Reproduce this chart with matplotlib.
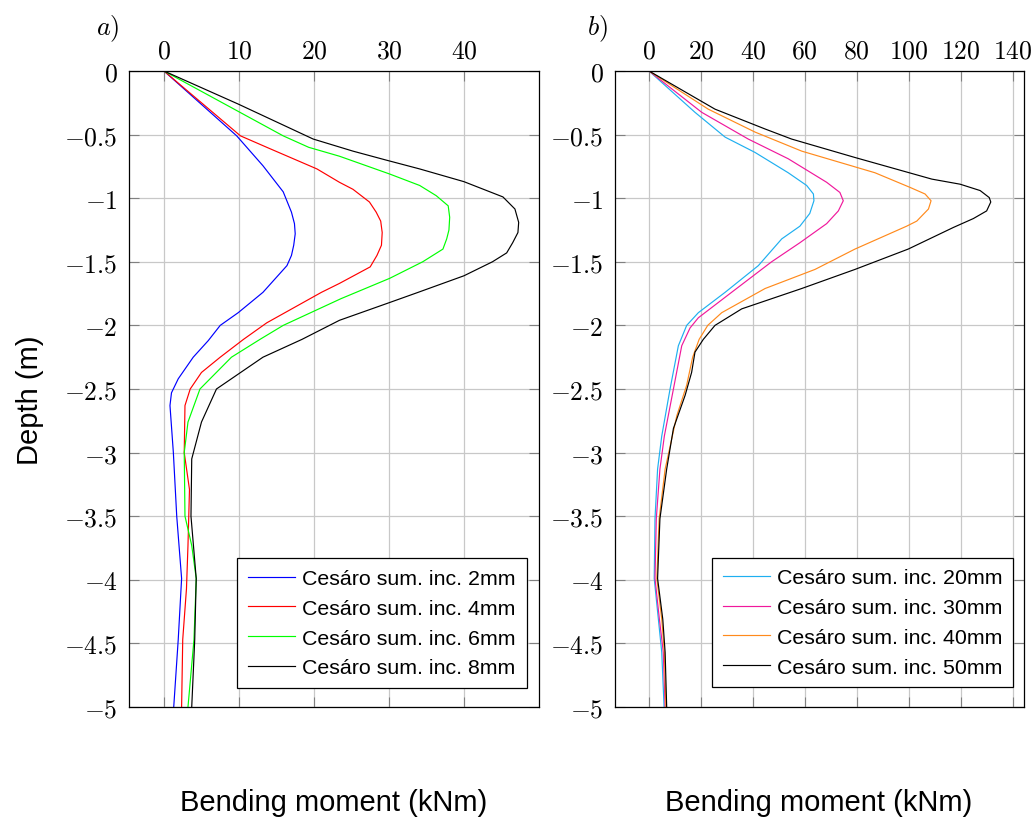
import matplotlib.pyplot as plt

# ---------------- DATA ----------------
# panel a) small increments, depth in m, moment in kNm
depth_2mm = [0, -0.51, -0.745, -0.95, -1.11, -1.20, -1.28, -1.37, -1.45, -1.53, -1.74, -1.90,
             -2.0, -2.12, -2.25, -2.42, -2.53, -2.63, -3.0, -3.5, -3.99, -4.47, -5.0]
moment_2mm = [0, 9.7, 13.2, 15.9, 17.0, 17.4, 17.5, 17.3, 17.0, 16.4, 13.2, 9.9,
              7.5, 5.9, 3.9, 1.9, 1.0, 0.8, 1.25, 1.7, 2.35, 1.9, 1.3]

depth_4mm = [0, -0.51, -0.61, -0.77, -0.875, -0.93, -1.03, -1.11, -1.18, -1.27, -1.37, -1.45,
             -1.50, -1.54, -1.67, -1.74, -1.98, -2.11, -2.25, -2.37, -2.5, -2.63, -3.0, -3.29,
             -3.73, -4.07, -4.47, -5.0]
moment_4mm = [0, 10.2, 14.1, 20.4, 23.4, 25.2, 27.4, 28.3, 28.9, 29.1, 29.0, 28.4,
              27.9, 27.5, 23.4, 21.0, 13.7, 10.6, 7.5, 5.0, 3.5, 2.8, 2.7, 3.4,
              3.2, 3.0, 2.5, 2.35]

depth_6mm = [0, -0.51, -0.6, -0.67, -0.81, -0.90, -0.98, -1.06, -1.15, -1.25, -1.32, -1.40,
             -1.5, -1.63, -1.79, -2.0, -2.11, -2.25, -2.5, -2.76, -3.0, -3.5, -3.73, -3.99,
             -4.47, -5.0]
moment_6mm = [0, 15.9, 19.3, 23.4, 30.1, 34.1, 36.3, 37.9, 38.1, 38.0, 37.7, 37.2,
              34.5, 30.1, 23.6, 15.9, 12.8, 9.0, 4.8, 3.2, 2.7, 2.8, 3.7, 4.3,
              4.0, 3.2]

depth_8mm = [0, -0.26, -0.535, -0.63, -0.70, -0.77, -0.87, -0.99, -1.085, -1.19, -1.27, -1.35,
             -1.43, -1.5, -1.61, -1.74, -1.82, -1.96, -2.11, -2.25, -2.5, -2.76, -3.05, -3.5,
             -3.99, -4.47, -5.0]
moment_8mm = [0, 9.9, 19.9, 25.2, 29.6, 34.1, 40.0, 45.2, 46.8, 47.3, 47.2, 46.5,
              45.7, 43.8, 40.0, 33.9, 30.1, 23.4, 18.4, 13.2, 7.0, 5.0, 3.7, 3.6,
              4.3, 4.1, 3.7]

# panel b) large increments
depth_20mm = [0, -0.325, -0.52, -0.64, -0.80, -0.90, -0.967, -1.02, -1.12, -1.22, -1.32, -1.53,
              -1.74, -1.90, -2.0, -2.16, -2.5, -2.87, -3.13, -3.52, -3.99, -4.31, -4.57, -5.0]
moment_20mm = [0, 17.7, 29.3, 40.8, 53.6, 60.7, 63.3, 63.5, 61.9, 58.1, 51.1, 42.1,
               29.3, 19.0, 14.5, 11.3, 8.1, 4.9, 3.3, 2.3, 2.0, 3.6, 4.9, 5.8]

depth_30mm = [0, -0.325, -0.535, -0.69, -0.875, -0.955, -1.02, -1.10, -1.20, -1.35, -1.50, -1.74,
              -1.94, -2.02, -2.16, -2.5, -2.87, -3.13, -3.52, -3.99, -4.31, -4.57, -5.0]
moment_30mm = [0, 20.3, 38.2, 53.6, 68.4, 73.5, 74.8, 72.9, 68.4, 58.1, 47.2, 31.8,
               19.0, 15.8, 12.6, 9.4, 5.9, 4.2, 2.8, 2.3, 4.0, 5.5, 6.2]

depth_40mm = [0, -0.30, -0.48, -0.63, -0.80, -0.915, -0.967, -1.02, -1.085, -1.18, -1.22, -1.40,
              -1.56, -1.71, -1.90, -2.0, -2.11, -2.25, -2.47, -2.71, -3.13, -3.52, -3.99, -4.31,
              -4.57, -5.0]
moment_40mm = [0, 22.8, 40.8, 58.8, 87.0, 100.5, 106.3, 108.6, 107.6, 103.1, 99.2, 79.3,
               63.9, 44.7, 28.0, 22.6, 19.3, 16.8, 14.5, 10.7, 6.2, 3.9, 3.0, 4.9,
               5.9, 6.5]

depth_50mm = [0, -0.30, -0.456, -0.535, -0.68, -0.85, -0.89, -0.94, -0.995, -1.03, -1.10, -1.16,
              -1.23, -1.40, -1.56, -1.71, -1.87, -2.0, -2.11, -2.21, -2.37, -2.55, -2.81, -3.13,
              -3.52, -3.99, -4.31, -4.57, -5.0]
moment_50mm = [0, 25.4, 44.7, 54.9, 79.3, 108.9, 119.8, 127.5, 131.0, 131.6, 130.0, 124.9,
               117.2, 99.8, 79.3, 58.8, 35.7, 25.4, 20.9, 17.7, 16.4, 13.9, 9.4, 6.8,
               4.2, 3.3, 5.3, 6.2, 6.8]

labels_a = ["Cesáro sum. inc. 2mm", "Cesáro sum. inc. 4mm",
            "Cesáro sum. inc. 6mm", "Cesáro sum. inc. 8mm"]
labels_b = ["Cesáro sum. inc. 20mm", "Cesáro sum. inc. 30mm",
            "Cesáro sum. inc. 40mm", "Cesáro sum. inc. 50mm"]

depth_ticks = [0, -0.5, -1, -1.5, -2, -2.5, -3, -3.5, -4, -4.5, -5]
moment_ticks_a = [0, 10, 20, 30, 40]
moment_ticks_b = [0, 20, 40, 60, 80, 100, 120, 140]

colors_a = ["#0000ff", "#ff0000", "#00ff00", "#000000"]
colors_b = ["#1eaff0", "#f0189c", "#ff8a1c", "#000000"]

# ---------------- STYLE ----------------
plt.rcParams["mathtext.fontset"] = "cm"
plt.rcParams["font.family"] = ["Liberation Sans", "DejaVu Sans"]


def tex(v):
    return "$%g$" % v


def style_axes(ax, xticks, xlim):
    ax.set_xlim(*xlim)
    ax.set_ylim(-5, 0)
    ax.set_xticks(xticks)
    ax.set_xticklabels([tex(v) for v in xticks])
    ax.set_yticks(depth_ticks)
    ax.set_yticklabels([tex(v) for v in depth_ticks])
    ax.xaxis.tick_top()
    ax.tick_params(axis="both", direction="in", length=7.5, width=0.8, color="#808080",
                   labelsize=18.5, top=True, bottom=True, left=True, right=True)
    ax.tick_params(axis="x", pad=6, labeltop=True, labelbottom=False)
    ax.tick_params(axis="y", pad=8)
    ax.grid(True, color="#c8c8c8", linewidth=0.9)
    ax.set_axisbelow(True)
    for s in ax.spines.values():
        s.set_linewidth(0.9)
        s.set_color("black")


def add_legend(ax, anchor):
    leg = ax.legend(loc="lower right", bbox_to_anchor=anchor, borderaxespad=0,
                    fontsize=15.4, frameon=True, fancybox=False, framealpha=1,
                    edgecolor="black", handlelength=2.2, handletextpad=0.35,
                    labelspacing=0.5, borderpad=0.5)
    leg.get_frame().set_linewidth(0.9)


# ---------------- FIGURE ----------------
fig = plt.figure(figsize=(10.35, 8.2), dpi=100)
ax_a = fig.add_axes([0.1246, 0.1366, 0.3961, 0.7756])
ax_b = fig.add_axes([0.5942, 0.1366, 0.3952, 0.7756])

series_a = [(moment_2mm, depth_2mm), (moment_4mm, depth_4mm),
            (moment_6mm, depth_6mm), (moment_8mm, depth_8mm)]
series_b = [(moment_20mm, depth_20mm), (moment_30mm, depth_30mm),
            (moment_40mm, depth_40mm), (moment_50mm, depth_50mm)]

for (m, d), c, lab in zip(series_a, colors_a, labels_a):
    ax_a.plot(m, d, color=c, linewidth=0.85, label=lab)
for (m, d), c, lab in zip(series_b, colors_b, labels_b):
    ax_b.plot(m, d, color=c, linewidth=0.85, label=lab)

style_axes(ax_a, moment_ticks_a, (-4.67, 50))
style_axes(ax_b, moment_ticks_b, (-13.1, 144.4))

add_legend(ax_a, (0.97, 0.03))
add_legend(ax_b, (0.974, 0.031))

# panel tags and axis titles
fig.text(96 / 1035, 1 - 29 / 820, r"$a)$", fontsize=19, ha="left", va="center")
fig.text(587 / 1035, 1 - 29 / 820, r"$b)$", fontsize=19, ha="left", va="center")
fig.text(30 / 1035, 1 - 400 / 820, "Depth (m)", fontsize=21, rotation=90,
         ha="center", va="center")
fig.text(334 / 1035, 1 - 803 / 820, "Bending moment (kNm)", fontsize=21,
         ha="center", va="center")
fig.text(819 / 1035, 1 - 803 / 820, "Bending moment (kNm)", fontsize=21,
         ha="center", va="center")

fig.savefig("out.png", dpi=100)
